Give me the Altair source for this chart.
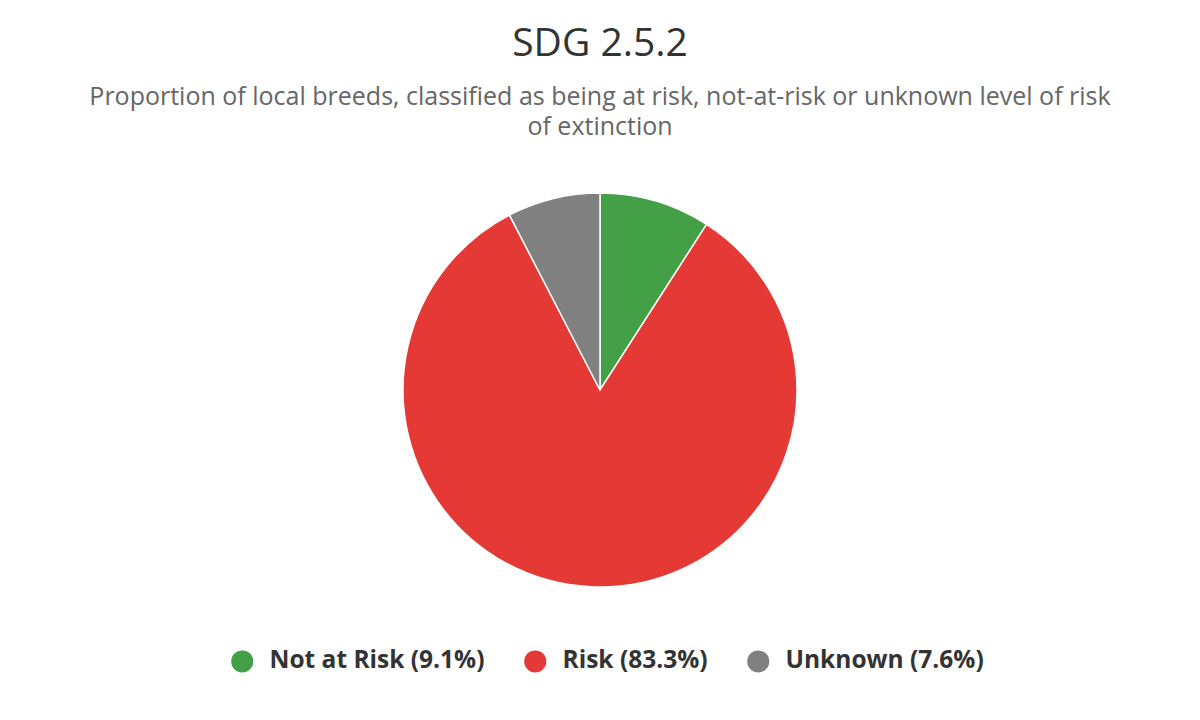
import altair as alt
import pandas as pd

categories = ["Not at Risk", "Risk", "Unknown"]
values = [9.1, 83.3, 7.6]
colors = ["#43a047", "#e53935", "#808080"]

labels = [f"{c} ({v}%)" for c, v in zip(categories, values)]
df = pd.DataFrame({"label": labels, "value": values, "order": list(range(len(values)))})

chart = alt.Chart(df).mark_arc(stroke="white", strokeWidth=1.5).encode(
    theta=alt.Theta("value:Q", stack=True),
    order=alt.Order("order:Q"),
    color=alt.Color(
        "label:N",
        sort=labels,
        scale=alt.Scale(domain=labels, range=colors),
        legend=alt.Legend(
            title=None,
            orient="none",
            legendX=222,
            legendY=491,
            direction="horizontal",
            symbolType="circle",
            symbolSize=484,
            symbolStrokeWidth=0,
            labelFontSize=24.5,
            labelFontWeight="bold",
            labelColor="#333333",
            labelFont="Open Sans",
            columnPadding=38,
            symbolOffset=0,
            labelOffset=15,
            labelLimit=400,
        ),
    ),
    x=alt.value(592),
    y=alt.value(232),
    radius=alt.value(197),
).properties(
    width=1184,
    height=470,
    autosize=alt.AutoSizeParams(type="none"),
    padding={"top": 150, "left": 0, "right": 0, "bottom": 84},
    title=alt.TitleParams(
        text="SDG 2.5.2",
        subtitle=["Proportion of local breeds, classified as being at risk, not-at-risk or unknown level of risk", "of extinction"],
        anchor="middle",
        font="Open Sans",
        fontSize=39,
        fontWeight="normal",
        color="#333333",
        subtitleFont="Open Sans",
        subtitleFontSize=25,
        subtitleColor="#666666",
        subtitleLineHeight=30,
        subtitlePadding=21,
        offset=18,
    ),
).configure_view(stroke=None)

chart.save("out.html", embed_options={"renderer": "svg", "actions": False})
